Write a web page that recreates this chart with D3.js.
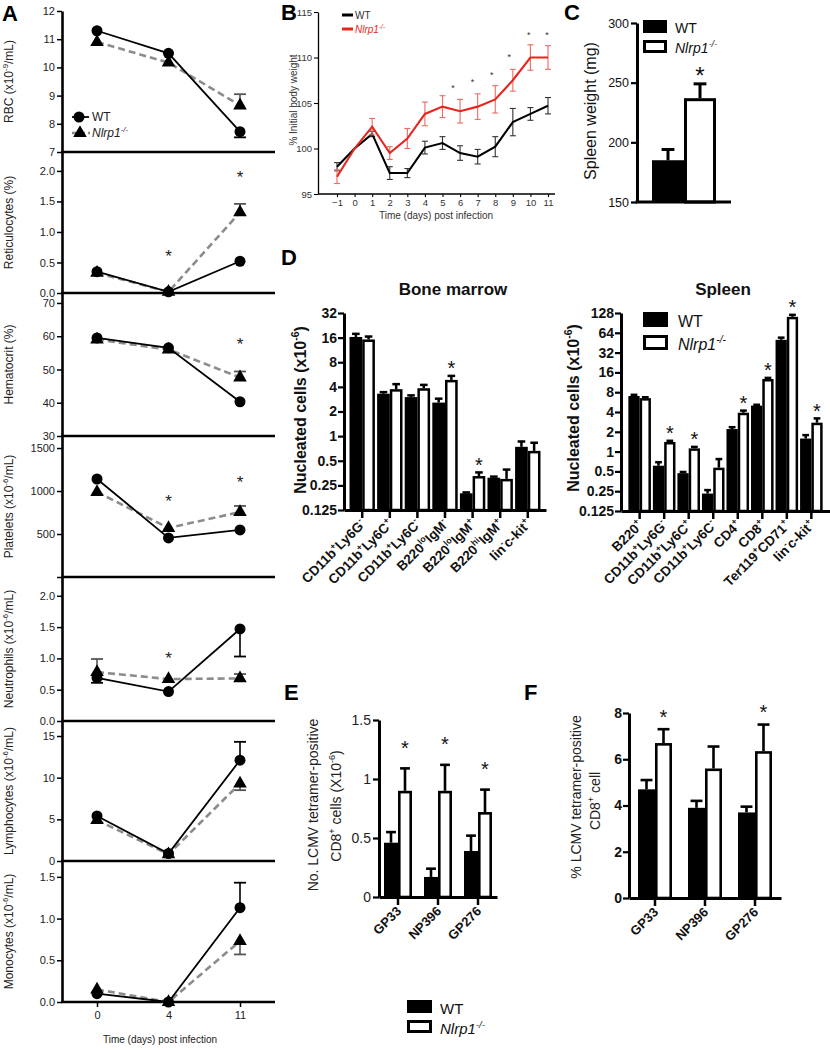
<!DOCTYPE html>
<html><head><meta charset="utf-8">
<script src="https://cdn.jsdelivr.net/npm/d3@7"></script>
<style>
body{margin:0;background:#fff}
svg{display:block}
text{font-family:"Liberation Sans",Arial,Helvetica,sans-serif}
</style>
</head><body>
<svg id="c" width="830" height="1050"></svg>
<script>
// ================= DATA =================
// Panel A (days post infection); signed errors: + drawn upward, - drawn downward
const daysA = ["0", "4", "11"];
const rbcWT = [11.3, 10.5, 7.72], rbcWTerr = [0, 0, -0.2];
const rbcKO = [10.9, 10.17, 8.65], rbcKOerr = [0, 0, 0.4];
const retWT = [0.35, 0.02, 0.52], retWTerr = [0, 0, 0];
const retKO = [0.33, 0.02, 1.32], retKOerr = [0, 0, 0.14];
const hctWT = [59.5, 56.5, 40.3], hctWTerr = [0, 0, 0];
const hctKO = [59.0, 56.0, 47.6], hctKOerr = [0, 0, 1.8];
const pltWT = [1140, 455, 547], pltWTerr = [0, 0, 0];
const pltKO = [988, 570, 756], pltKOerr = [0, 0, 70];
const neuWT = [0.69, 0.47, 1.47], neuWTerr = [-0.08, 0, -0.44];
const neuKO = [0.78, 0.67, 0.68], neuKOerr = [0.21, 0, 0.07];
const lymWT = [5.4, 0.9, 12.1], lymWTerr = [0, 0, 2.2];
const lymKO = [4.9, 0.8, 9.3], lymKOerr = [0, 0, -0.8];
const monWT = [0.1, 0.0, 1.13], monWTerr = [0, 0, 0.3];
const monKO = [0.15, 0.0, 0.73], monKOerr = [0, 0, -0.16];
const retStars = [["4", 0.67], ["11", 1.97]];
const hctStars = [["11", 58.9]];
const pltStars = [["4", 930], ["11", 1151]];
const neuStars = [["4", 1.06]];
const rbcTicks = [7, 8, 9, 10, 11, 12];
const retTicks = [0, 0.5, 1, 1.5, 2];
const hctTicks = [30, 40, 50, 60, 70];
const pltTicks = [0, 500, 1000, 1500];
const neuTicks = [0, 0.5, 1, 1.5, 2];
const lymTicks = [0, 5, 10, 15];
const monTicks = [0, 0.5, 1, 1.5];

// Panel B: body weight
const bDays = [-1, 0, 1, 2, 3, 4, 5, 6, 7, 8, 9, 10, 11];
const bWT = [98.0, 100, 101.6, 97.3, 97.3, 100.1, 100.6, 99.5, 99.1, 100.2, 102.9, 103.8, 104.7];
const bWTerr = [0.45, 0, 0.3, 0.7, 0.5, 0.7, 0.7, 0.8, 0.8, 1.1, 1.5, 0.7, 0.9];
const bKO = [96.9, 100, 102.4, 99.5, 101.1, 103.8, 104.6, 104.1, 104.6, 105.4, 107.5, 110.0, 110.0];
const bKOerr = [0.75, 0, 0.9, 0.7, 1.1, 1.3, 1.2, 1.3, 1.4, 1.5, 1.2, 1.4, 1.3];
const bStarX = [5.6, 6.7, 7.8, 8.8, 9.9, 10.95];
const bStarY = [106.9, 107.6, 108.3, 110.3, 112.7, 112.7];
const bTicksY = [95, 100, 105, 110, 115];

// Panel C: spleen weight (mg)
const cWT = [185], cWTerr = [9];
const cKO = [237], cKOerr = [12];
const cTicks = [150, 200, 250, 300];

// Panel D: nucleated cells (x10^-6)
const bmCats = ["CD11b{+}Ly6G{-}", "CD11b{+}Ly6C{+}", "CD11b{+}Ly6C{-}", "B220{lo}IgM{-}", "B220{lo}IgM{+}", "B220{hi}IgM{+}", "lin{-}c-kit{+}"];
const bmWT = [16.3, 3.3, 3.0, 2.57, 0.2, 0.31, 0.74];
const bmWTerr = [1.5, 0.15, 0.15, 0.3, 0.005, 0.01, 0.12];
const bmKO = [15.2, 3.75, 3.85, 4.87, 0.325, 0.3, 0.66];
const bmKOerr = [1.3, 0.57, 0.38, 0.58, 0.035, 0.09, 0.17];
const bmStars = ["B220{lo}IgM{-}", "B220{lo}IgM{+}"];
const bmTicks = [0.125, 0.25, 0.5, 1, 2, 4, 8, 16, 32];
const bmTickLabels = ["0.125", "0.25", "0.5", "1", "2", "4", "8", "16", "32"];
const spCats = ["B220{+}", "CD11b{+}Ly6G{-}", "CD11b{+}Ly6C{+}", "CD11b{+}Ly6C{-}", "CD4{+}", "CD8{+}", "Ter119{+}CD71{+}", "lin{-}c-kit{+}"];
const spWT = [7.0, 0.61, 0.47, 0.23, 2.2, 5.0, 50, 1.58];
const spWTerr = [0.3, 0.08, 0.02, 0.03, 0.15, 0.15, 4, 0.2];
const spKO = [6.5, 1.4, 1.12, 0.57, 3.9, 12.7, 112, 2.75];
const spKOerr = [0.2, 0.06, 0.06, 0.2, 0.3, 0.5, 8, 0.45];
const spStars = ["CD11b{+}Ly6G{-}", "CD11b{+}Ly6C{+}", "CD4{+}", "CD8{+}", "Ter119{+}CD71{+}", "lin{-}c-kit{+}"];
const spTicks = [0.125, 0.25, 0.5, 1, 2, 4, 8, 16, 32, 64, 128];
const spTickLabels = ["0.125", "0.25", "0.5", "1", "2", "4", "8", "16", "32", "64", "128"];

// Panels E & F: LCMV tetramer
const epitopes = ["GP33", "NP396", "GP276"];
const eWT = [0.46, 0.17, 0.39], eWTerr = [0.09, 0.07, 0.13];
const eKO = [0.9, 0.9, 0.72], eKOerr = [0.19, 0.22, 0.19];
const eStars = ["GP33", "NP396", "GP276"];
const eTicks = [0, 0.5, 1, 1.5], eTickLabels = ["0", "0.5", "1", "1.5"];
const fWT = [4.7, 3.9, 3.7], fWTerr = [0.4, 0.3, 0.25];
const fKO = [6.7, 5.6, 6.35], fKOerr = [0.6, 0.95, 1.15];
const fStars = ["GP33", "GP276"];
const fTicks = [0, 2, 4, 6, 8];

// ================= HELPERS =================
const svg = d3.select("#c");
const FONT = '"Liberation Sans", Arial, Helvetica, sans-serif';

function rich(t, str, fs) {
  let italic = false, sup = false, buf = "";
  const parts = [];
  const flush = () => { if (buf) parts.push({ s: buf, it: italic, sup: sup }); buf = ""; };
  for (const ch of str) {
    if (ch === "_") { flush(); italic = !italic; }
    else if (ch === "{") { flush(); sup = true; }
    else if (ch === "}") { flush(); sup = false; }
    else buf += ch;
  }
  flush();
  let shifted = false;
  parts.forEach(p => {
    const ts = t.append("tspan").text(p.s);
    if (p.it) ts.attr("font-style", "italic");
    if (p.sup) {
      ts.attr("font-size", fs * 0.65);
      if (!shifted) { ts.attr("dy", -fs * 0.42); shifted = true; }
    } else if (shifted) { ts.attr("dy", fs * 0.42); shifted = false; }
  });
  return t;
}
function txt(g, x, y, str, fs, opt = {}) {
  const t = g.append("text").attr("x", x).attr("y", y).attr("font-size", fs)
    .attr("fill", opt.color || "#000").attr("text-anchor", opt.anchor || "start")
    .attr("font-weight", opt.bold ? "bold" : "normal");
  if (opt.transform) t.attr("transform", opt.transform);
  return rich(t, str, fs);
}
function vtxt(g, x, cy, str, fs, opt = {}) {
  const t = g.append("text").attr("transform", `translate(${x},${cy}) rotate(-90)`)
    .attr("font-size", fs).attr("fill", opt.color || "#000").attr("text-anchor", "middle")
    .attr("font-weight", opt.bold ? "bold" : "normal");
  return rich(t, str, fs);
}
function star(g, x, cy, fs, color) {
  g.append("text").attr("x", x).attr("y", cy + 0.58 * fs).attr("text-anchor", "middle")
    .attr("font-size", fs).attr("fill", color || "#111").text("*");
}
function styleAxis(g, o) {
  g.attr("font-family", FONT);
  g.select(".domain").attr("stroke", "#000").attr("stroke-width", o.dw);
  g.selectAll(".tick line").attr("stroke", "#000").attr("stroke-width", o.tw);
  g.selectAll(".tick text").attr("font-size", o.fs).attr("fill", o.color || "#000")
    .attr("font-weight", o.bold ? "bold" : "normal");
}
function hline(g, x1, x2, y, w, c) {
  g.append("line").attr("x1", x1).attr("x2", x2).attr("y1", y).attr("y2", y)
    .attr("stroke", c || "#000").attr("stroke-width", w);
}
function vline(g, x, y1, y2, w, c) {
  g.append("line").attr("x1", x).attr("x2", x).attr("y1", y1).attr("y2", y2)
    .attr("stroke", c || "#000").attr("stroke-width", w);
}
function panelLetter(x, y, s) {
  svg.append("text").attr("x", x).attr("y", y).attr("font-size", 22).attr("font-weight", "bold").text(s);
}

// ================= PANEL A =================
const gA = svg.append("g");
const aX = d3.scalePoint().domain(daysA).range([97, 240]);
const A_LEFT = 62, A_RIGHT = 275;
const aPanels = [
  { lab: "RBC (x10{-9}/mL)", top: 11, bot: 152, dom: [7, 12], ticks: rbcTicks, fmt: d3.format("d"), wt: rbcWT, wtE: rbcWTerr, ko: rbcKO, koE: rbcKOerr, stars: [] },
  { lab: "Reticulocytes (%)", top: 152, bot: 293, dom: [0, 2.31], ticks: retTicks, fmt: d3.format(".1f"), wt: retWT, wtE: retWTerr, ko: retKO, koE: retKOerr, stars: retStars },
  { lab: "Hematocrit (%)", top: 293, bot: 436, dom: [30, 73], ticks: hctTicks, fmt: d3.format("d"), wt: hctWT, wtE: hctWTerr, ko: hctKO, koE: hctKOerr, stars: hctStars },
  { lab: "Platelets (x10{-6}/mL)", top: 436, bot: 577, dom: [0, 1640], ticks: pltTicks, fmt: d => d === 0 ? "" : d, wt: pltWT, wtE: pltWTerr, ko: pltKO, koE: pltKOerr, stars: pltStars },
  { lab: "Neutrophils (x10{-6}/mL)", top: 577, bot: 721, dom: [0, 2.3], ticks: neuTicks, fmt: d3.format(".1f"), wt: neuWT, wtE: neuWTerr, ko: neuKO, koE: neuKOerr, stars: neuStars },
  { lab: "Lymphocytes (x10{-6}/mL)", top: 721, bot: 861, dom: [0, 16.8], ticks: lymTicks, fmt: d3.format("d"), wt: lymWT, wtE: lymWTerr, ko: lymKO, koE: lymKOerr, stars: [] },
  { lab: "Monocytes (x10{-6}/mL)", top: 861, bot: 1002, dom: [0, 1.69], ticks: monTicks, fmt: d3.format(".1f"), wt: monWT, wtE: monWTerr, ko: monKO, koE: monKOerr, stars: [] }
];
const tri = d3.symbol().type(d3.symbolTriangle).size(80);
aPanels.forEach(p => {
  const y = d3.scaleLinear().domain(p.dom).range([p.bot, p.top]);
  const ax = gA.append("g").attr("transform", `translate(${A_LEFT},0)`)
    .call(d3.axisLeft(y).tickValues(p.ticks).tickFormat(p.fmt).tickSize(5).tickSizeOuter(0).tickPadding(2));
  styleAxis(ax, { dw: 2.6, tw: 1.5, fs: 11, color: "#222" });
  hline(gA, A_LEFT - 1, A_RIGHT, p.bot, 2.6);
  vtxt(gA, 13, (p.top + p.bot) / 2, p.lab, 12, { color: "#222" });
  const lineGen = d3.line().x((d, i) => aX(daysA[i])).y(d => y(d));
  const errs = (vals, errv, col) => vals.forEach((v, i) => {
    if (!errv[i]) return;
    const x = aX(daysA[i]), y1 = y(v), y2 = y(v + errv[i]);
    vline(gA, x, y1, y2, 1.6, col);
    hline(gA, x - 6, x + 6, y2, 1.8, col);
  });
  errs(p.ko, p.koE, "#555");
  errs(p.wt, p.wtE, "#000");
  gA.append("path").attr("d", lineGen(p.ko)).attr("fill", "none").attr("stroke", "#8c8c8c")
    .attr("stroke-width", 2.6).attr("stroke-dasharray", "7,4");
  gA.append("path").attr("d", lineGen(p.wt)).attr("fill", "none").attr("stroke", "#000").attr("stroke-width", 1.8);
  p.ko.forEach((v, i) => gA.append("path").attr("d", tri).attr("transform", `translate(${aX(daysA[i])},${y(v)})`).attr("fill", "#000"));
  p.wt.forEach((v, i) => gA.append("circle").attr("cx", aX(daysA[i])).attr("cy", y(v)).attr("r", 5.5).attr("fill", "#000"));
  p.stars.forEach(s => star(gA, aX(s[0]), y(s[1]), 17, "#222"));
});
const axA = gA.append("g").attr("transform", "translate(0,1002)")
  .call(d3.axisBottom(aX).tickSize(5).tickSizeOuter(0).tickPadding(4));
axA.select(".domain").remove();
styleAxis(axA, { dw: 0, tw: 1.5, fs: 11, color: "#222" });
txt(gA, 160, 1043, "Time (days) post infection", 10, { anchor: "middle", color: "#222" });
// legend A
hline(gA, 72, 89, 117, 1.8);
gA.append("circle").attr("cx", 79).attr("cy", 117).attr("r", 5.5).attr("fill", "#000");
txt(gA, 92, 121, "WT", 12, { color: "#222" });
gA.append("line").attr("x1", 72).attr("x2", 90).attr("y1", 133).attr("y2", 133).attr("stroke", "#8c8c8c").attr("stroke-width", 2.6).attr("stroke-dasharray", "5,3");
gA.append("path").attr("d", tri).attr("transform", "translate(80,133)").attr("fill", "#000");
txt(gA, 92, 137, "_Nlrp1{-/-}_", 12, { color: "#222" });
panelLetter(2, 21, "A");

// ================= PANEL B =================
const gB = svg.append("g");
const bX = d3.scaleLinear().domain([-1, 11]).range([337, 548]);
const bY = d3.scaleLinear().domain([95, 115]).range([194, 12]);
const axBy = gB.append("g").attr("transform", "translate(318,0)")
  .call(d3.axisLeft(bY).tickValues(bTicksY).tickSize(4).tickSizeOuter(0).tickPadding(2));
styleAxis(axBy, { dw: 1.3, tw: 1.1, fs: 9.5, color: "#333" });
const axBx = gB.append("g").attr("transform", "translate(0,194)")
  .call(d3.axisBottom(bX).tickValues(bDays).tickSize(3).tickSizeOuter(0).tickPadding(2));
styleAxis(axBx, { dw: 1.3, tw: 1.1, fs: 9.5, color: "#333" });
axBx.select(".domain").attr("d", "M318,0H555");
const RED = "#e5261d";
function bSeries(vals, errv, col, errCol) {
  vals.forEach((v, i) => {
    if (!errv[i]) return;
    const x = bX(bDays[i]), y1 = bY(v - errv[i]), y2 = bY(v + errv[i]);
    vline(gB, x, y1, y2, 1.1, errCol);
    hline(gB, x - 3, x + 3, y1, 1.1, errCol);
    hline(gB, x - 3, x + 3, y2, 1.1, errCol);
  });
  gB.append("path").attr("d", d3.line().x((d, i) => bX(bDays[i])).y(d => bY(d))(vals))
    .attr("fill", "none").attr("stroke", col).attr("stroke-width", 2.1);
}
bSeries(bWT, bWTerr, "#000", "#333");
bSeries(bKO, bKOerr, RED, "#ef6a61");
bStarX.forEach((d, i) => star(gB, bX(d), bY(bStarY[i]), 9, "#333"));
vtxt(gB, 297, 100, "% Initial body weight", 10, { color: "#333" });
txt(gB, 436, 219, "Time (days) post infection", 10, { anchor: "middle", color: "#333" });
hline(gB, 342, 353, 15, 3, "#000");
txt(gB, 355, 19, "WT", 10, { color: "#333" });
hline(gB, 342, 353, 29, 3, RED);
txt(gB, 355, 33, "_Nlrp1{-/-}_", 10, { color: RED });
panelLetter(281, 20, "B");

// ================= BAR HELPER =================
function barChart(g, cfg) {
  const { cats, x, y, base, wt, wtE, ko, koE, sw, capFrac, stars, starFs, starOff } = cfg;
  const hw = x.bandwidth() / 2;
  cats.forEach((c, i) => {
    const x0 = x(c);
    const cap = hw * capFrac;
    const wcx = x0 + hw / 2, wy = y(wt[i]), wyE = y(wt[i] + wtE[i]);
    vline(g, wcx, wy, wyE, sw);
    hline(g, wcx - cap / 2, wcx + cap / 2, wyE, sw);
    g.append("rect").attr("x", x0).attr("y", wy).attr("width", hw).attr("height", base - wy).attr("fill", "#000");
    const kcx = x0 + hw * 1.5, ky = y(ko[i]), kyE = y(ko[i] + koE[i]);
    vline(g, kcx, ky, kyE, sw);
    hline(g, kcx - cap / 2, kcx + cap / 2, kyE, sw);
    g.append("rect").attr("x", x0 + hw + sw / 2).attr("y", ky + sw / 2).attr("width", hw - sw)
      .attr("height", Math.max(0, base - ky - sw / 2)).attr("fill", "#fff").attr("stroke", "#000").attr("stroke-width", sw);
  });
  (stars || []).forEach(c => {
    const i = cats.indexOf(c);
    star(g, x(c) + hw * 1.5, y(ko[i] + koE[i]) - starOff, starFs, "#111");
  });
}
function legendBoxes(g, x, y1, y2, w, h, fs, tx, dy) {
  g.append("rect").attr("x", x).attr("y", y1).attr("width", w).attr("height", h).attr("fill", "#000");
  g.append("rect").attr("x", x + 1.5).attr("y", y2 + 1.5).attr("width", w - 3).attr("height", h - 3)
    .attr("fill", "#fff").attr("stroke", "#000").attr("stroke-width", 3);
  txt(g, tx, y1 + h + dy, "WT", fs, { color: "#111" });
  txt(g, tx, y2 + h + dy, "_Nlrp1{-/-}_", fs, { color: "#111" });
}

// ================= PANEL C =================
const gC = svg.append("g");
const cX = d3.scaleBand().domain(["spleen"]).range([652, 716]).padding(0);
const cY = d3.scaleLinear().domain([150, 300]).range([202, 23]);
barChart(gC, { cats: ["spleen"], x: cX, y: cY, base: 202, wt: cWT, wtE: cWTerr, ko: cKO, koE: cKOerr, sw: 3, capFrac: 0.4, stars: ["spleen"], starFs: 24, starOff: 14 });
const axCy = gC.append("g").attr("transform", "translate(637,0)")
  .call(d3.axisLeft(cY).tickValues(cTicks).tickSize(6).tickSizeOuter(0).tickPadding(2));
styleAxis(axCy, { dw: 3, tw: 2.2, fs: 12.5, color: "#111" });
hline(gC, 635.5, 731, 202, 3);
vtxt(gC, 596, 111, "Spleen weight (mg)", 16, { color: "#111" });
legendBoxes(gC, 643, 20, 40, 24, 13, 14, 675, 0);
panelLetter(564, 20, "C");

// ================= PANEL D =================
const gD = svg.append("g");
panelLetter(281, 265, "D");
function catLabels(g, cats, x, axisY, fs, bold) {
  cats.forEach(c => {
    txt(g, 0, 0, c, fs, { bold: bold, anchor: "end", color: "#111",
      transform: `translate(${x(c) + x.bandwidth() / 2 + 4},${axisY + 15}) rotate(-45)` });
  });
}
const bmX = d3.scaleBand().domain(bmCats).range([344, 546]).paddingInner(0.08).paddingOuter(0.2);
const bmY = d3.scaleLog().base(2).domain([0.125, 32]).range([510, 313]);
barChart(gD, { cats: bmCats, x: bmX, y: bmY, base: 510, wt: bmWT, wtE: bmWTerr, ko: bmKO, koE: bmKOerr, sw: 2.5, capFrac: 0.6, stars: bmStars, starFs: 20, starOff: 12 });
const axBMy = gD.append("g").attr("transform", "translate(344,0)")
  .call(d3.axisLeft(bmY).tickValues(bmTicks).tickFormat((d, i) => bmTickLabels[i]).tickSize(6).tickSizeOuter(0).tickPadding(1));
styleAxis(axBMy, { dw: 3, tw: 2.2, fs: 14, bold: true, color: "#111" });
const axBMx = gD.append("g").attr("transform", "translate(0,510)")
  .call(d3.axisBottom(bmX).tickSize(8).tickSizeOuter(0).tickFormat(""));
styleAxis(axBMx, { dw: 3, tw: 2.5, fs: 12 });
catLabels(gD, bmCats, bmX, 510, 13.5, true);
vtxt(gD, 306, 410, "Nucleated cells (x10{-6})", 16, { bold: true, color: "#111" });
txt(gD, 453, 295, "Bone marrow", 17, { bold: true, anchor: "middle", color: "#111" });
const spX = d3.scaleBand().domain(spCats).range([621, 830]).paddingInner(0.08).paddingOuter(0.3);
const spY = d3.scaleLog().base(2).domain([0.125, 128]).range([511, 313]);
barChart(gD, { cats: spCats, x: spX, y: spY, base: 511, wt: spWT, wtE: spWTerr, ko: spKO, koE: spKOerr, sw: 2.5, capFrac: 0.6, stars: spStars, starFs: 20, starOff: 12 });
const axSPy = gD.append("g").attr("transform", "translate(621,0)")
  .call(d3.axisLeft(spY).tickValues(spTicks).tickFormat((d, i) => spTickLabels[i]).tickSize(6).tickSizeOuter(0).tickPadding(1));
styleAxis(axSPy, { dw: 3, tw: 2.2, fs: 14, bold: true, color: "#111" });
const axSPx = gD.append("g").attr("transform", "translate(0,511)")
  .call(d3.axisBottom(spX).tickSize(8).tickSizeOuter(0).tickFormat(""));
styleAxis(axSPx, { dw: 3, tw: 2.5, fs: 12 });
catLabels(gD, spCats, spX, 511, 13.5, true);
vtxt(gD, 579, 408, "Nucleated cells (x10{-6})", 16, { bold: true, color: "#111" });
txt(gD, 723, 295, "Spleen", 17, { bold: true, anchor: "middle", color: "#111" });
legendBoxes(gD, 643, 312, 335, 25, 15, 16, 678, 0);

// ================= PANEL E =================
const gE = svg.append("g");
panelLetter(284, 700, "E");
const eX = d3.scaleBand().domain(epitopes).range([379, 497]).paddingInner(0.3).paddingOuter(0.125);
const eY = d3.scaleLinear().domain([0, 1.5]).range([897, 720]);
barChart(gE, { cats: epitopes, x: eX, y: eY, base: 897, wt: eWT, wtE: eWTerr, ko: eKO, koE: eKOerr, sw: 2.6, capFrac: 0.7, stars: eStars, starFs: 20, starOff: 25 });
const axEy = gE.append("g").attr("transform", "translate(379,0)")
  .call(d3.axisLeft(eY).tickValues(eTicks).tickFormat((d, i) => eTickLabels[i]).tickSize(6).tickSizeOuter(0).tickPadding(2));
styleAxis(axEy, { dw: 3, tw: 2.2, fs: 14, color: "#222" });
const axEx = gE.append("g").attr("transform", "translate(0,897)")
  .call(d3.axisBottom(eX).tickSize(8).tickSizeOuter(0).tickFormat(""));
styleAxis(axEx, { dw: 3, tw: 2.5, fs: 12 });
catLabels(gE, epitopes, eX, 897, 13, true);
vtxt(gE, 318, 805, "No. LCMV tetramer-positive", 14, { color: "#222" });
vtxt(gE, 341, 806, "CD8{+} cells (X10{-6})", 14, { color: "#222" });

// ================= PANEL F =================
const gF = svg.append("g");
panelLetter(524, 700, "F");
const fX = d3.scaleBand().domain(epitopes).range([629, 781]).paddingInner(0.32).paddingOuter(0.18);
const fY = d3.scaleLinear().domain([0, 8]).range([898, 713]);
barChart(gF, { cats: epitopes, x: fX, y: fY, base: 898, wt: fWT, wtE: fWTerr, ko: fKO, koE: fKOerr, sw: 2.6, capFrac: 0.7, stars: fStars, starFs: 20, starOff: 17 });
const axFy = gF.append("g").attr("transform", "translate(629,0)")
  .call(d3.axisLeft(fY).tickValues(fTicks).tickSize(6).tickSizeOuter(0).tickPadding(1));
styleAxis(axFy, { dw: 3, tw: 2.2, fs: 14, bold: true, color: "#111" });
const axFx = gF.append("g").attr("transform", "translate(0,898)")
  .call(d3.axisBottom(fX).tickSize(8).tickSizeOuter(0).tickFormat(""));
styleAxis(axFx, { dw: 3, tw: 2.5, fs: 12 });
catLabels(gF, epitopes, fX, 898, 13, true);
vtxt(gF, 581, 797, "% LCMV tetramer-positive", 14, { color: "#222" });
vtxt(gF, 600, 801, "CD8{+} cell", 14, { color: "#222" });

legendBoxes(svg.append("g"), 407, 1000, 1020, 25, 13, 15, 440, 1);
</script>
</body></html>
